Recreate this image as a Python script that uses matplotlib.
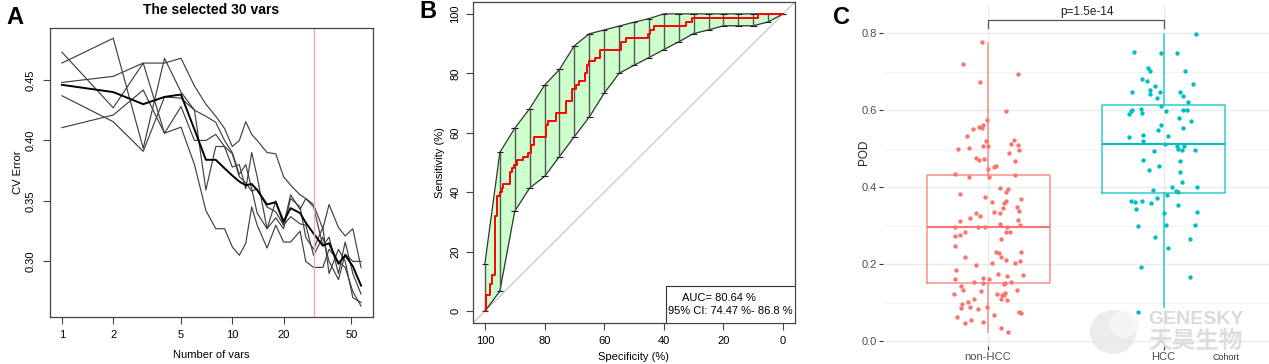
import numpy as np
import matplotlib.pyplot as plt
from matplotlib.patches import Rectangle, Ellipse

plt.rcParams['font.family'] = ['Liberation Sans', 'DejaVu Sans']

W, H = 1269, 364

# ---- panel A : CV error vs number of vars ----
n_vars = [1, 2, 3, 4, 5, 6, 7, 8, 9, 10, 11, 12, 13, 14, 16, 18, 20, 22, 25, 27, 30, 34, 37, 42, 46, 51, 57]
cv_runs = [
    [.464, .4845, .3935, .468, .440, .425, .420, .415, .400, .390, .372, .380, .360, .340, .327, .350, .330, .355, .343, .352, .345, .313, .320, .290, .316, .290, .273],
    [.448, .453, .464, .464, .468, .445, .430, .420, .410, .395, .400, .4155, .405, .400, .390, .389, .370, .363, .355, .352, .347, .327, .347, .328, .321, .327, .295],
    [.473, .427, .464, .406, .428, .400, .400, .405, .395, .378, .380, .360, .390, .370, .327, .336, .327, .352, .345, .320, .310, .328, .290, .310, .300, .270, .266],
    [.437, .4155, .391, .436, .435, .425, .359, .395, .395, .389, .370, .365, .358, .360, .345, .341, .330, .337, .331, .330, .305, .320, .300, .285, .306, .300, .300],
    [.4106, .421, .4417, .406, .411, .380, .342, .327, .327, .312, .305, .315, .345, .330, .311, .330, .316, .316, .325, .300, .295, .295, .310, .300, .295, .275, .263],
]
cv_mean = [.446, .440, .430, .436, .438, .409, .384, .384, .377, .371, .366, .363, .364, .359, .347, .349, .333, .344, .340, .332, .323, .313, .315, .298, .305, .296, .280]
selected = 30

# ---- panel B : ROC with CI band ----
ci_spec = [100, 95, 90, 85, 80, 75, 70, 65, 60, 55, 50, 45, 40, 35, 30, 25, 20, 15, 10, 5, 0]
ci_upper = [16, 53.4, 61.5, 68.1, 76, 81.3, 89.3, 93.3, 94.6, 95.9, 97.2, 98.4, 100, 100, 100, 100, 100, 100, 100, 100, 100]
ci_lower = [0, 6.7, 33.6, 41.4, 45.3, 52, 58.7, 65.3, 73.3, 80, 82.7, 85.3, 88, 90.6, 93.4, 94.6, 96, 96, 96, 97.3, 100]
roc_spec = [100, 99.5, 98.4, 97.6, 96.7, 95.9, 95.1, 94.4, 93.9, 91.7, 90.8, 90.1, 89.3, 87.3, 85.6, 84.5,
            83.4, 79.5, 78.7, 76.1, 72.8, 70.8, 69.4, 68.3, 66.4, 65.8, 65.0, 63.1, 61.3, 54.4, 52.7, 45.3,
            44.5, 43.2, 32.6, 30.6, 8.3, 0]
roc_sens = [0, 5.3, 9, 12, 32, 38.7, 40, 41.3, 42.7, 46.7, 48, 49.3, 50.7, 52, 53.3, 56,
            58.7, 62.7, 64, 66.7, 70.7, 74.7, 76, 77.3, 80, 82.7, 84, 85.3, 88, 90.7, 92, 93.3,
            94.7, 96, 97.3, 98.7, 100, 100]
auc_text = "AUC= 80.64 %"
ci_text = "95% CI: 74.47 %- 86.8 %"

# ---- panel C : POD by cohort ----
groups = ['non-HCC', 'HCC']
nonhcc_x = [-.034, -.142, .171, -.046, .102, -.004, -.027, -.051, -.032, -.087, -.121, -.011, .146, .129, .171,
            -.171, -.108, -.028, 0, .178, .118, -.066, -.049, -.021, .156, .036, .047, 0, -.19, -.110, .008,
            .152, .066, .114,
            .104, -.157, -.019, .190, .021, .104, .089, .167, .083, .177, .036, -.070, .066, -.047, -.104,
            -.157, .171, .070, .184, -.19, -.057, -.015, .108, -.129, .101, .127, -.186, -.157, .076, -.188,
            .047, .061, .186, -.129, .072, .101, .184, .154, .023, -.066, -.183, .057, .110, .201, -.190,
            -.030, .006, -.078, -.027, .099, .131, .089, -.154, -.140, -.040, .167, -.192, .051, .080, .091,
            .099, -.078, .072, .106, -.116, -.148, -.154, -.102, -.059, -.008, .178, .188, .032, -.176, -.095,
            -.129, -.030, .074, .114]
nonhcc_y = [.7765, .720, .695, .674, .599, .576, .562, .557, .553, .551, .533, .520, .523, .512, .510,
            .500, .502, .507, .507, .497, .488, .475, .472, .474, .468, .452, .456, .447, .434, .427, .428,
            .431, .399, .396,
            .389, .383, .374, .370, .363, .365, .359, .350, .346, .339, .336, .332, .332, .325, .320,
            .313, .316, .305, .302, .298, .297, .298, .297, .285, .285, .283, .274, .276, .267, .248,
            .233, .229, .233, .218, .218, .210, .208, .204, .203, .197, .185, .175, .170, .173, .163,
            .164, .163, .155, .151, .151, .155, .148, .144, .133, .130, .132, .122, .123, .121, .120,
            .125, .109, .109, .106, .102, .096, .087, .090, .083, .088, .077, .074, .068, .064, .055,
            .047, .049, .034, .025]
hcc_x = [.184, -.167, -.015, .076, -.087, -.076, .120, -.125, -.095, .167, -.047, -.180, -.076, -.080, -.021,
         .095, .112, -.038, .137, -.015, .013, -.127, -.180, -.188, -.197, -.121, .110, .131, .089, .158,
         -.015, -.030, .108, .025, -.197, -.120, -.120, .006, .076, .080, .104, .116, .176, -.055, -.120,
         .093, -.027, -.083, .093, .104, .049, .188, -.059, .070, .080, .019, -.038, -.184, -.161, -.125,
         -.074, .083, -.156, .188, .004, -.144, .013, .178, -.049, .148, .023, -.129, .148, -.146]
hcc_y = [.797, .751, .750, .749, .710, .701, .702, .681, .675, .669, .663, .648, .652, .642, .647,
         .648, .638, .633, .622, .610, .598, .604, .601, .597, .591, .594, .601, .601, .581, .572,
         .561, .548, .555, .534, .530, .536, .521, .513, .506, .500, .498, .508, .497, .494, .470,
         .468, .456, .445, .440, .413, .402, .400, .393, .391, .389, .380, .373, .365, .361, .364,
         .360, .354, .344, .335, .333, .299, .301, .301, .271, .266, .243, .193, .166, .077]
box_q1 = [.1514, .385]
box_med = [.2969, .5126]
box_q3 = [.4327, .6146]
box_lo = [.025, .0899]
box_hi = [.7756, .797]
p_label = "p=1.5e-14"
colors = ['#F8766D', '#00BFC4']

fig = plt.figure(figsize=(W / 100, H / 100), dpi=100)


def rect(l, t, r, b):
    return [l / W, 1 - b / H, (r - l) / W, (b - t) / H]


def ftext(x, y, s, **kw):
    fig.text(x / W, 1 - y / H, s, ha=kw.pop('ha', 'center'), va=kw.pop('va', 'center'), **kw)


# ---------------- A ----------------
ax1 = fig.add_axes(rect(50, 28, 373, 317))
for run in cv_runs:
    ax1.plot(n_vars, run, color='#404040', lw=0.85)
ax1.plot(n_vars, cv_mean, color='black', lw=1.4)
ax1.axvline(selected, color='#f5a9b8', lw=1)
ax1.set_xscale('log')
ax1.set_xlim(0.851, 67.0)
ax1.set_ylim(0.254, 0.493)
ax1.set_xticks([1, 2, 5, 10, 20, 50])
ax1.set_xticklabels(['1', '2', '5', '10', '20', '50'])
ax1.minorticks_off()
ax1.set_yticks([0.30, 0.35, 0.40, 0.45])
ax1.set_yticklabels(['0.30', '0.35', '0.40', '0.45'], rotation=90, va='center')
ax1.tick_params(direction='out', length=5, width=0.8, labelsize=8, color='#444')
ax1.tick_params(axis='x', pad=4)
ax1.tick_params(axis='y', pad=5)
for s in ax1.spines.values():
    s.set_color('#444')
    s.set_linewidth(0.9)
ftext(211, 10, 'The selected 30 vars', fontsize=10, fontweight='bold')
ftext(211, 355, 'Number of vars', fontsize=8)
ftext(18, 172, 'CV Error', fontsize=8, rotation=90)
ftext(15, 17, 'A', fontsize=17, fontweight='bold')

# ---------------- B ----------------
ax2 = fig.add_axes(rect(473, 2, 795, 323))
ax2.fill_between(ci_spec, ci_lower, ci_upper, color='#ccffcc', lw=0)
ax2.plot(ci_spec, ci_upper, color='#333', lw=0.9)
ax2.plot(ci_spec, ci_lower, color='#333', lw=0.9)
ax2.vlines(ci_spec, ci_lower, ci_upper, color='#555', lw=1)
ax2.hlines(ci_upper, np.array(ci_spec) - 1.1, np.array(ci_spec) + 1.1, color='#222', lw=0.8)
ax2.hlines(ci_lower, np.array(ci_spec) - 1.1, np.array(ci_spec) + 1.1, color='#222', lw=0.8)
ax2.axline((100, 0), (0, 100), color='#c0c0c0', lw=0.8, zorder=1)
ax2.plot(roc_spec, roc_sens, color='red', lw=1.4, drawstyle='steps-post')
ax2.add_patch(Rectangle((-4, -4), 43.3, 12.6, facecolor='white', edgecolor='#333', lw=0.8, zorder=5))
ax2.text(21.5, 4.4, auc_text, ha='center', va='center', fontsize=8, zorder=6)
ax2.text(17.6, 0, ci_text, ha='center', va='center', fontsize=8, zorder=6)
ax2.set_xlim(104, -4)
ax2.set_ylim(-4, 104)
ax2.set_xticks([100, 80, 60, 40, 20, 0])
ax2.set_yticks([0, 20, 40, 60, 80, 100])
ax2.set_yticklabels(['0', '20', '40', '60', '80', '100'], rotation=90, va='center')
ax2.tick_params(direction='out', length=5, width=0.8, labelsize=8, color='#444')
ax2.tick_params(axis='x', pad=4)
ax2.tick_params(axis='y', pad=4)
for s in ax2.spines.values():
    s.set_color('#444')
    s.set_linewidth(0.9)
ftext(634, 357, 'Specificity (%)', fontsize=8)
ftext(440, 163, 'Sensitivity (%)', fontsize=8, rotation=90)
ftext(428, 11, 'B', fontsize=17, fontweight='bold')

# ---------------- C ----------------
ax3 = fig.add_axes(rect(882.7, 5, 1269, 346))
ax3.set_xlim(0.4, 2.6)
ax3.set_ylim(-0.0122, 0.8735)
for v in [0.1, 0.3, 0.5, 0.7]:
    ax3.axhline(v, color='#f3f3f3', lw=0.7, zorder=0)
for v in [0, 0.2, 0.4, 0.6, 0.8]:
    ax3.axhline(v, color='#ebebeb', lw=1.0, zorder=0)
for v in [1, 2]:
    ax3.axvline(v, color='#ebebeb', lw=1.0, zorder=0)
stats = []
for i in range(2):
    stats.append(dict(med=box_med[i], q1=box_q1[i], q3=box_q3[i], whislo=box_lo[i], whishi=box_hi[i], fliers=[]))
for i in range(2):
    c = colors[i]
    ax3.bxp([stats[i]], positions=[i + 1], widths=0.7, showcaps=False, showfliers=False, patch_artist=False,
            boxprops=dict(color=c, lw=1.1, alpha=0.8), whiskerprops=dict(color=c, lw=1.1, alpha=0.8),
            medianprops=dict(color=c, lw=1.5), manage_ticks=False, zorder=2)
ax3.scatter(1 + np.array(nonhcc_x), nonhcc_y, s=10, color=colors[0], lw=0, zorder=3)
ax3.scatter(2 + np.array(hcc_x), hcc_y, s=10, color=colors[1], lw=0, zorder=3)
ax3.plot([1, 1, 2, 2], [0.8138, 0.8345, 0.8345, 0.8138], color='#555', lw=0.9)
ax3.text(1.563, 0.856, p_label, ha='center', va='center', fontsize=8.5, color='#222')
ax3.set_xticks([1, 2])
ax3.set_xticklabels(groups)
ax3.set_yticks([0, 0.2, 0.4, 0.6, 0.8])
ax3.set_yticklabels(['0.0', '0.2', '0.4', '0.6', '0.8'])
ax3.tick_params(length=3, width=0.8, color='#333', labelsize=8, labelcolor='#4d4d4d', pad=1)
for s in ax3.spines.values():
    s.set_visible(False)
ftext(864, 152, 'POD', fontsize=8.5, rotation=90, color='#222')
ftext(1226, 357, 'Cohort', fontsize=6.5, color='#333')
ftext(842, 18, 'C', fontsize=17, fontweight='bold')

# watermark
fig.patches.append(Ellipse((1113 / W, 1 - 332 / H), 46 / W, 44 / H, transform=fig.transFigure,
                           facecolor='#e4e4e4', edgecolor='none', alpha=0.7, zorder=0))
fig.patches.append(Ellipse((1124 / W, 1 - 324 / H), 30 / W, 26 / H, transform=fig.transFigure,
                           facecolor='#f7f7f7', edgecolor='none', alpha=0.9, zorder=0))
ftext(1196, 320, 'GENESKY', fontsize=14, fontweight='bold', color='#d0d0d0', alpha=0.8)
ftext(1196, 341, '天昊生物', fontsize=17, fontweight='bold', color='#d4d4d4', alpha=0.75,
      family=['Noto Sans CJK SC', 'DejaVu Sans'])

fig.savefig('out.png', dpi=100)
